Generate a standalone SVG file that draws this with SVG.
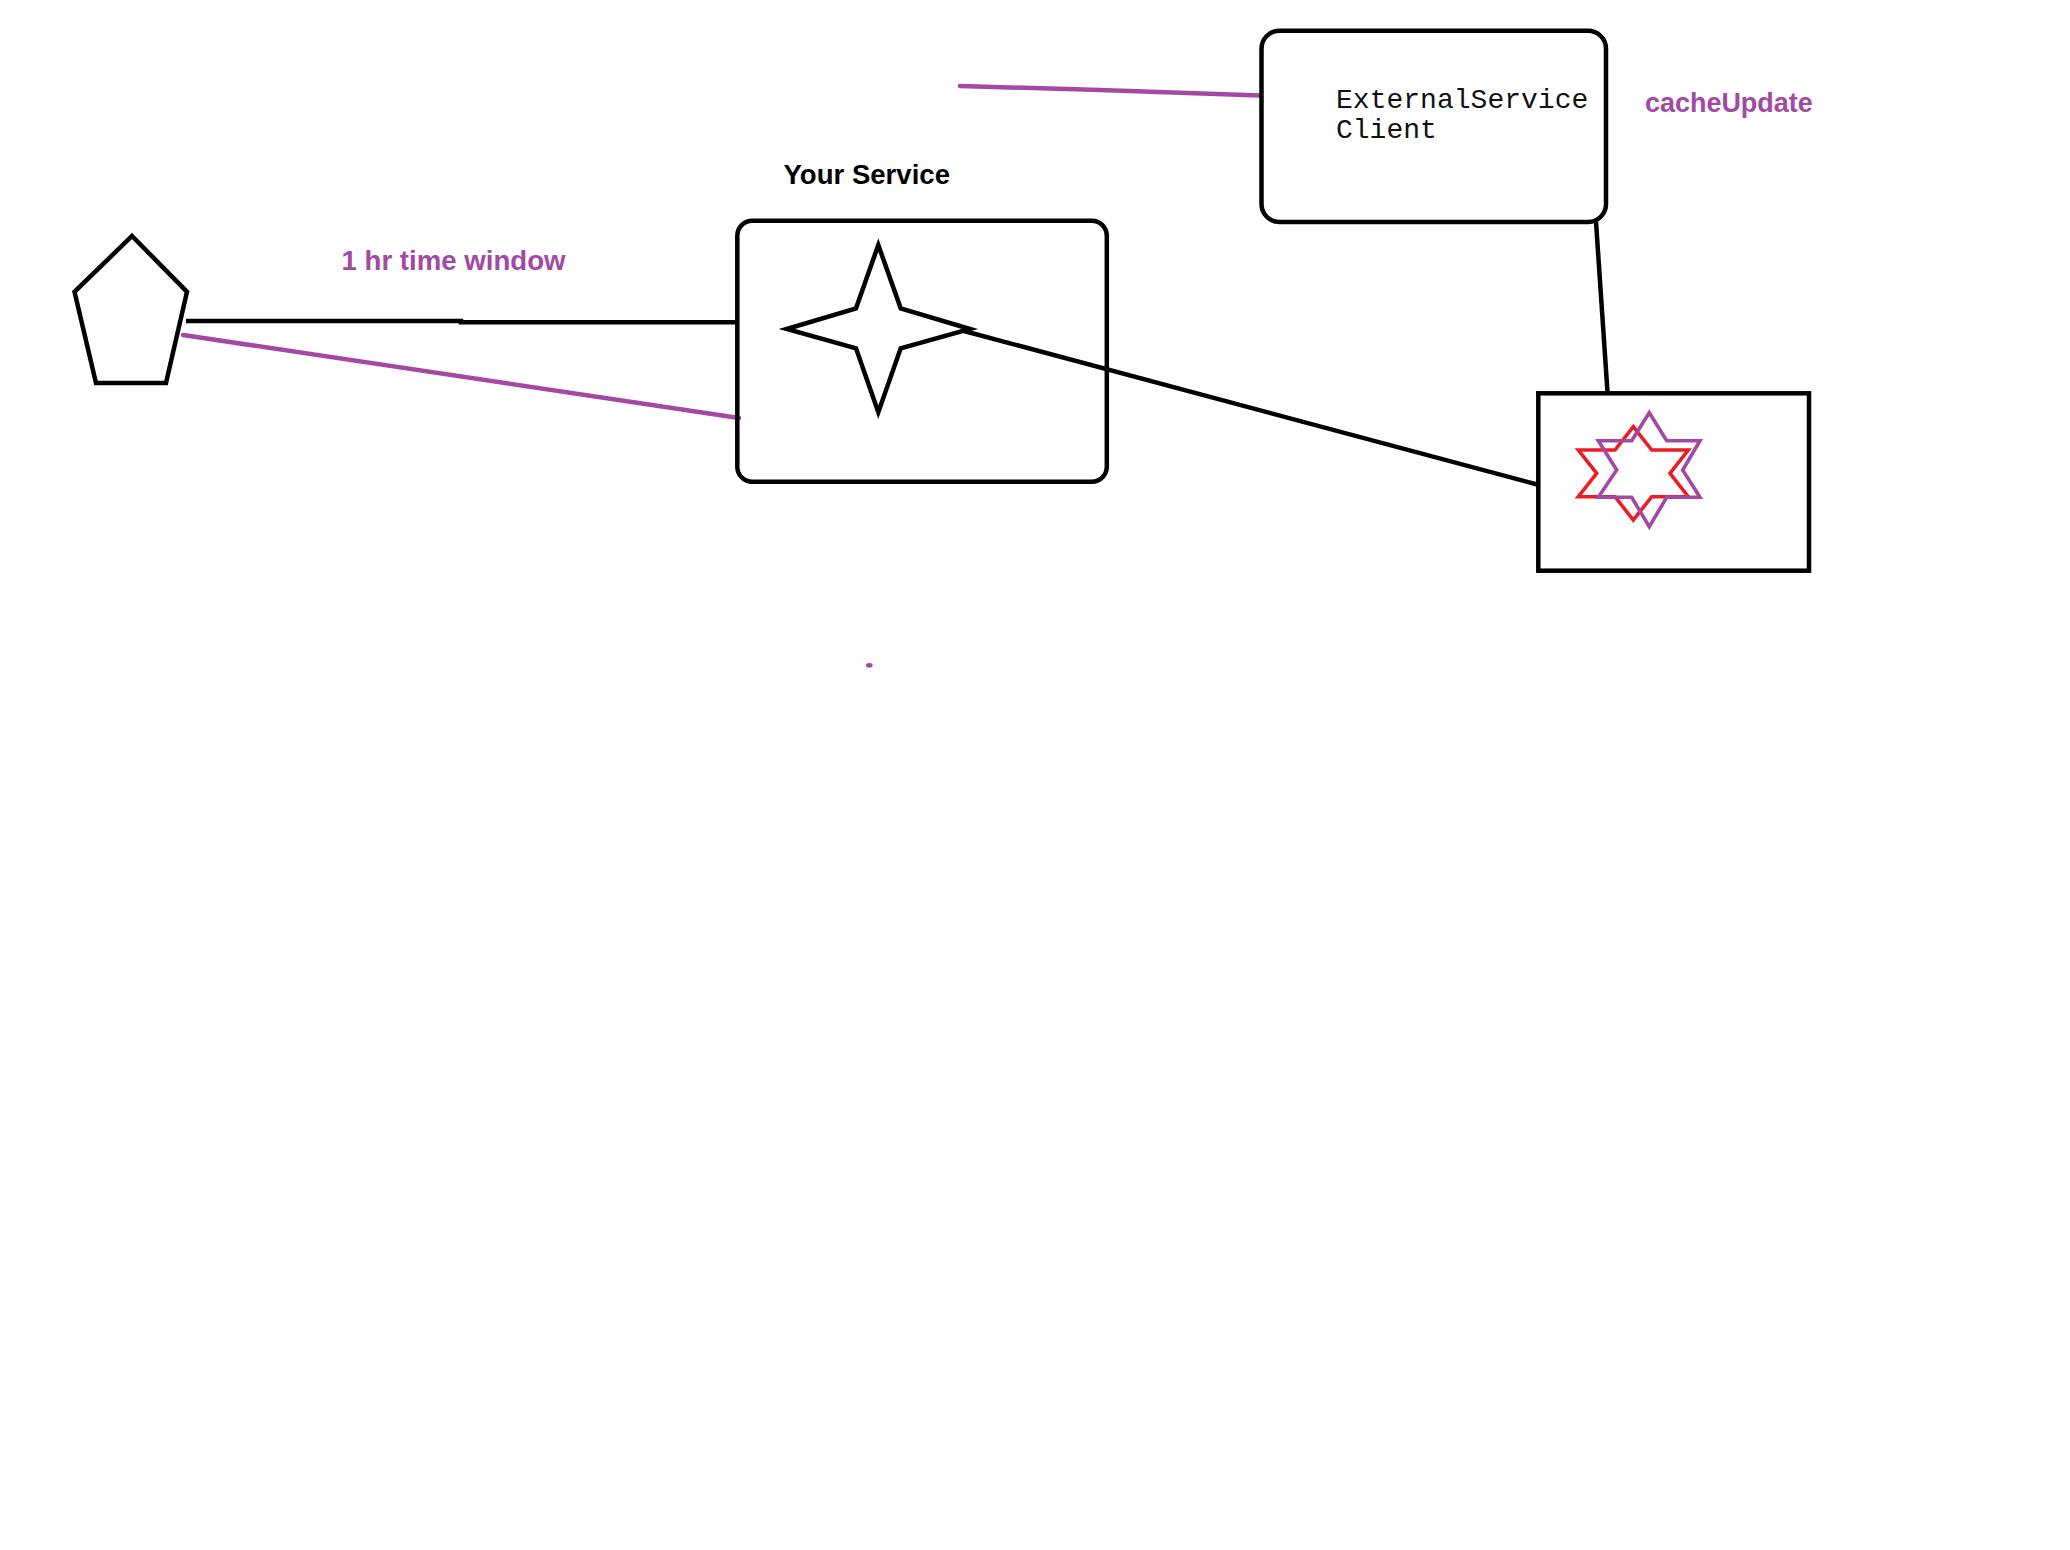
<svg xmlns="http://www.w3.org/2000/svg" width="2070" height="1550" viewBox="0 0 2070 1550">
  <style>
    .blk { fill: none; stroke: #000; stroke-width: 4.5; stroke-linejoin: miter; }
    .pur { fill: none; stroke: #A349A4; stroke-width: 4.5; stroke-linecap: round; }
    .lbl { font-family: "Liberation Sans", Arial, sans-serif; font-weight: bold; font-size: 27px; }
    .mono { font-family: "Liberation Mono", "Courier New", monospace; font-size: 28px; fill: #111; }
    .star { fill: none; stroke-width: 3.6; }
  </style>
  <rect width="2070" height="1550" fill="#fff"/>

  <g id="connectors">
    <polyline class="blk" points="186,321 461,321 461,322.3 737,322.3"/>
    <line class="pur" x1="183" y1="335" x2="739" y2="418"/>
    <line class="blk" x1="964" y1="331" x2="1539" y2="485"/>
    <line class="blk" x1="1596" y1="222" x2="1607.5" y2="392"/>
    <polyline class="pur" points="960,86 1100,90 1260,95.5"/>
  </g>

  <g id="client-pentagon">
    <polygon class="blk" points="132,236 187,291.8 166,383 96,383 74.5,291.8"/>
  </g>

  <g id="label-time-window">
    <text class="lbl" x="341.5" y="270" fill="#A349A4" textLength="224" lengthAdjust="spacingAndGlyphs">1 hr time window</text>
  </g>

  <g id="your-service">
    <text class="lbl" x="783.5" y="184.3" fill="#000" textLength="166.5" lengthAdjust="spacingAndGlyphs">Your Service</text>
    <rect class="blk" x="737.3" y="220.7" width="369.5" height="261" rx="15" ry="15"/>
    <polygon class="blk" points="878.3,245 900.7,308.3 970,329 900.7,348.3 878.3,412.3 856,348.3 786.7,329 856,308.3"/>
  </g>

  <g id="external-service-client">
    <rect class="blk" x="1261.5" y="30.7" width="344.5" height="191.3" rx="18" ry="18"/>
    <text class="mono" x="1336" y="107.7" textLength="252.3" lengthAdjust="spacingAndGlyphs">ExternalService</text>
    <text class="mono" x="1336" y="138.3">Client</text>
  </g>

  <g id="label-cache-update">
    <text class="lbl" x="1645" y="112.3" fill="#A349A4" textLength="167.7" lengthAdjust="spacingAndGlyphs">cacheUpdate</text>
  </g>

  <g id="cache-box">
    <rect x="1538.3" y="393.3" width="270.7" height="177.4" fill="none" stroke="#000" stroke-width="4.5"/>
    <polygon class="star" stroke="#ED1C24" points="1633.3,426.7 1651.7,450 1688.3,450 1670,473.3 1688.3,496.7 1651.7,496.7 1633.3,520 1615,496.7 1578.3,496.7 1596.7,473.3 1578.3,450 1615,450"/>
    <polygon class="star" stroke="#A349A4" points="1649.3,412.7 1666.7,440.7 1700,440.7 1682.7,470 1700,497.3 1666.7,497.3 1649.3,526.7 1631.7,497.3 1598.3,497.3 1616.7,470 1598.3,440.7 1631.7,440.7"/>
  </g>

  <g id="dot">
    <ellipse cx="869.3" cy="665.3" rx="3.3" ry="2.4" fill="#A349A4"/>
  </g>
</svg>
